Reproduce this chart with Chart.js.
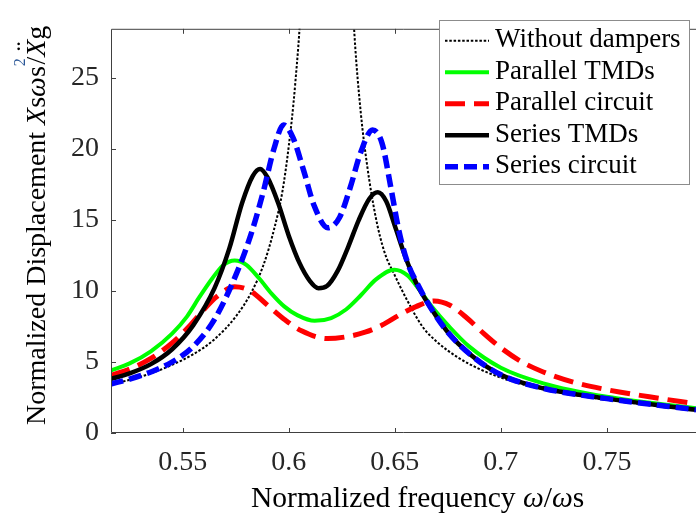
<!DOCTYPE html>
<html><head><meta charset="utf-8">
<script src="https://cdn.jsdelivr.net/npm/chart.js@4/dist/chart.umd.min.js"></script>
<style>html,body{margin:0;padding:0;background:#fff}#wrap{width:696px;height:525px}</style>
</head><body><div id="wrap"><canvas id="c" width="696" height="525"></canvas></div>
<script>
// ---- data ----
const xTicks = [0.55, 0.6, 0.65, 0.7, 0.75];
const yTicks = [0, 5, 10, 15, 20, 25];
const seriesNames = ['Without dampers', 'Parallel TMDs', 'Parallel circuit', 'Series TMDs', 'Series circuit'];

const noDamperX = [0.516,0.525,0.535,0.545,0.555,0.565,0.575,0.582,0.588,0.593,0.597,0.6,0.603,0.606,0.61,0.617,0.624,0.628,0.631,0.634,0.637,0.641,0.645,0.65,0.656,0.663,0.67,0.68,0.69,0.7,0.715,0.73,0.75,0.77,0.792];
const noDamperY = [3.4,3.75,4.2,4.8,5.55,6.6,8.2,9.8,11.8,14.3,17.0,20.2,24.5,31,48,90,60,37,28,22.5,18.8,15.2,12.8,11.1,9.3,7.5,6.4,5.3,4.5,3.9,3.25,2.8,2.35,1.98,1.66];

const parTmdX = [0.516,0.525,0.535,0.545,0.552,0.558,0.564,0.569,0.5745,0.58,0.586,0.592,0.598,0.604,0.6122,0.62,0.627,0.634,0.641,0.6498,0.656,0.662,0.668,0.675,0.685,0.7,0.72,0.75,0.792];
const parTmdY = [4.4,4.9,5.75,7.0,8.2,9.6,10.9,11.8,12.15,11.85,10.9,9.8,8.9,8.3,7.9,8.1,8.7,9.7,10.8,11.5,11.1,10.0,8.8,7.6,6.1,4.6,3.5,2.55,1.75];

const parCirX = [0.516,0.525,0.535,0.545,0.553,0.56,0.566,0.5745,0.582,0.59,0.598,0.606,0.6183,0.628,0.636,0.644,0.652,0.66,0.6685,0.676,0.684,0.692,0.7,0.71,0.72,0.735,0.75,0.77,0.792];
const parCirY = [4.05,4.5,5.25,6.35,7.5,8.7,9.6,10.3,10.0,9.0,8.0,7.2,6.65,6.8,7.1,7.6,8.3,8.9,9.3,9.0,8.1,7.0,6.0,5.0,4.3,3.55,3.05,2.55,2.05];

const serTmdX = [0.516,0.525,0.535,0.545,0.555,0.565,0.572,0.578,0.583,0.5865,0.59,0.595,0.6,0.605,0.61,0.614,0.618,0.623,0.628,0.633,0.638,0.642,0.646,0.65,0.655,0.66,0.667,0.675,0.685,0.7,0.72,0.75,0.792];
const serTmdY = [3.8,4.2,4.85,5.9,7.6,10.2,13.0,16.2,18.1,18.6,18.0,16.2,13.9,12.0,10.7,10.2,10.35,11.4,13.1,15.0,16.5,16.95,16.3,14.6,12.4,10.6,8.8,7.1,5.6,4.1,3.15,2.42,1.64];

const serCirX = [0.516,0.525,0.535,0.545,0.555,0.565,0.575,0.582,0.588,0.593,0.5975,0.602,0.607,0.612,0.6185,0.624,0.629,0.634,0.6395,0.644,0.648,0.652,0.656,0.661,0.667,0.675,0.685,0.7,0.72,0.75,0.792];
const serCirY = [3.45,3.8,4.3,5.0,6.1,8.0,11.1,13.9,17.0,20.0,21.7,20.8,18.5,16.0,14.45,15.2,17.3,19.8,21.35,20.4,17.4,14.2,12.0,10.4,8.8,7.1,5.6,4.1,3.15,2.42,1.64];

const xRange = [0.5162, 0.792];
const yRange = [0, 28.47];

// ---- chart ----
const SERIF = '"Liberation Serif", "Times New Roman", serif';
function pts(xs, ys){ return xs.map((x,i)=>({x:x, y:ys[i]})); }

const datasets = [
  {label: seriesNames[0], data: pts(noDamperX, noDamperY), borderColor:'#000000', borderWidth:2, borderDash:[2.5,1.8], order:5},
  {label: seriesNames[1], data: pts(parTmdX, parTmdY), borderColor:'#00ff00', borderWidth:4, borderDash:[], order:4},
  {label: seriesNames[2], data: pts(parCirX, parCirY), borderColor:'#ff0000', borderWidth:5, borderDash:[20,9], order:3},
  {label: seriesNames[3], data: pts(serTmdX, serTmdY), borderColor:'#000000', borderWidth:4.5, borderDash:[], order:2},
  {label: seriesNames[4], data: pts(serCirX, serCirY), borderColor:'#0000ff', borderWidth:5.5, borderDash:[13,6], order:1}
].map(d => Object.assign({pointRadius:0, fill:false, cubicInterpolationMode:'monotone', borderJoinStyle:'round', borderCapStyle:'butt'}, d));

const framePlugin = {
  id:'frame',
  afterDatasetsDraw(chart){
    const {ctx, chartArea:a, scales:{x, y}} = chart;
    ctx.save();
    ctx.strokeStyle = '#404040'; ctx.lineWidth = 1; ctx.setLineDash([]);
    ctx.beginPath();
    ctx.moveTo(a.left+0.5, a.top+0.5); ctx.lineTo(a.right, a.top+0.5);
    ctx.moveTo(a.left+0.5, a.top+0.5); ctx.lineTo(a.left+0.5, a.bottom-0.5);
    ctx.lineTo(a.right, a.bottom-0.5);
    for (const t of x.ticks){
      const px = Math.round(x.getPixelForValue(t.value))+0.5;
      ctx.moveTo(px, a.bottom); ctx.lineTo(px, a.bottom-5);
      ctx.moveTo(px, a.top); ctx.lineTo(px, a.top+5);
    }
    for (const t of y.ticks){
      const py = Math.round(y.getPixelForValue(t.value))+0.5;
      ctx.moveTo(a.left, py); ctx.lineTo(a.left+5, py);
    }
    ctx.stroke();
    ctx.restore();
  }
};

function drawRich(ctx, segs, size){
  let cx = 0;
  for (const s of segs){
    const fs = s.sup ? Math.round(size*0.58) : size;
    ctx.font = (s.it ? 'italic ' : '') + fs + 'px ' + SERIF;
    ctx.fillStyle = s.color || '#000';
    const dy = s.sup ? -size*0.72 : 0;
    ctx.fillText(s.t, cx, dy);
    const w = ctx.measureText(s.t).width;
    if (s.dots){
      ctx.font = size + 'px ' + SERIF;
      const dw = ctx.measureText('\u00A8').width;
      ctx.fillText('\u00A8', cx + w/2 - dw/2 + 2, -size*0.36);
    }
    cx += s.sup ? w*0.2 : w;
  }
  return cx;
}

const titlePlugin = {
  id:'titles',
  afterDraw(chart){
    const ctx = chart.ctx;
    ctx.save();
    ctx.textBaseline = 'alphabetic'; ctx.textAlign = 'left';
    // y title
    ctx.save();
    ctx.translate(45, 425);
    ctx.rotate(-Math.PI/2);
    drawRich(ctx, [
      {t:'Normalized Displacement '},
      {t:'X', it:true}, {t:'s'}, {t:'\u03C9', it:true}, {t:'s'},
      {t:'2', sup:true, color:'#2b5797'},
      {t:'/'}, {t:'X', it:true, dots:true}, {t:'g'}
    ], 28);
    ctx.restore();
    // x title
    ctx.save();
    ctx.translate(251, 507);
    drawRich(ctx, [
      {t:'Normalized frequency '}, {t:'\u03C9', it:true}, {t:'/'}, {t:'\u03C9', it:true}, {t:'s'}
    ], 29.5);
    ctx.restore();
    ctx.restore();
  }
};

const legendPlugin = {
  id:'boxLegend',
  afterDraw(chart){
    const ctx = chart.ctx;
    const bx = 439.5, by = 20.5, bw = 250, bh = 164;
    ctx.save();
    ctx.fillStyle = '#ffffff';
    ctx.fillRect(bx, by, bw, bh);
    ctx.strokeStyle = '#8c8c8c'; ctx.lineWidth = 1; ctx.setLineDash([]);
    ctx.strokeRect(bx, by, bw, bh);
    chart.data.datasets.forEach((d, i) => {
      const ry = 40.7 + i*31.5;
      ctx.beginPath();
      ctx.strokeStyle = d.borderColor;
      ctx.lineWidth = d.borderWidth;
      ctx.setLineDash(d.borderDash || []);
      ctx.lineCap = 'butt';
      ctx.moveTo(445, ry); ctx.lineTo(489, ry);
      ctx.stroke();
      ctx.setLineDash([]);
      ctx.fillStyle = '#000';
      ctx.font = '27px ' + SERIF;
      ctx.textBaseline = 'alphabetic';
      ctx.fillText(d.label, 495, ry + 6.5);
    });
    ctx.restore();
  }
};

new Chart(document.getElementById('c'), {
  type:'line',
  data:{datasets},
  options:{
    responsive:false, animation:false, devicePixelRatio:1,
    layout:{padding:{top:6, left:0, right:0, bottom:0}},
    plugins:{legend:{display:false}, title:{display:false}, tooltip:{enabled:false}},
    scales:{
      x:{type:'linear', min:xRange[0], max:xRange[1],
         afterBuildTicks:s=>{ s.ticks = xTicks.map(v=>({value:v})); },
         afterFit:s=>{ s.height = 92; },
         grid:{display:false, drawTicks:false}, border:{display:false},
         ticks:{font:{family:SERIF, size:28}, color:'#262626', padding:13, maxRotation:0, autoSkip:false, callback:v=>String(v)}},
      y:{type:'linear', min:yRange[0], max:yRange[1],
         afterBuildTicks:s=>{ s.ticks = yTicks.map(v=>({value:v})); },
         afterFit:s=>{ s.width = 111; },
         grid:{display:false, drawTicks:false}, border:{display:false},
         ticks:{font:{family:SERIF, size:28}, color:'#262626', padding:12, autoSkip:false, callback:v=>String(v)}}
    }
  },
  plugins:[framePlugin, titlePlugin, legendPlugin]
});
</script>
</body></html>
